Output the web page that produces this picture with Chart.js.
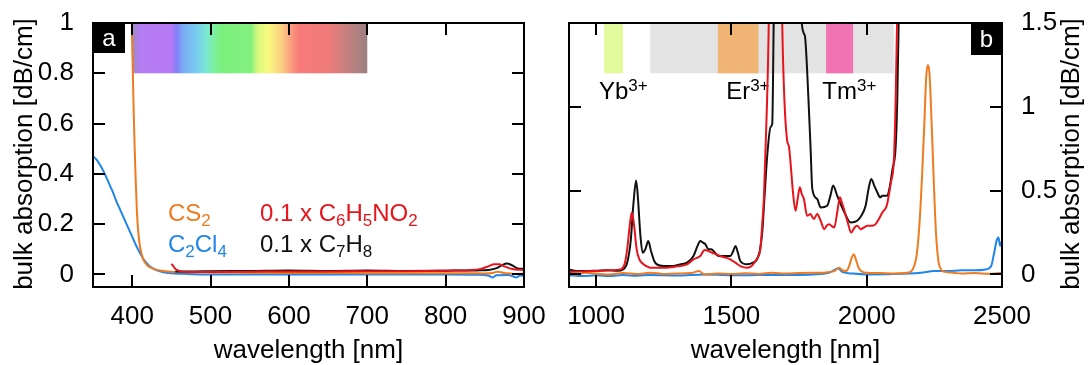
<!DOCTYPE html>
<html>
<head>
<meta charset="utf-8">
<script src="https://cdn.jsdelivr.net/npm/chart.js@4.4.1/dist/chart.umd.min.js"></script>
<style>
  body { margin: 0; background: #fff; }
  #wrap { position: relative; width: 1089px; height: 365px; }
  #visChart { position: absolute; left: 0; top: 0; }
  #nirChart { position: absolute; left: 545px; top: 0; }
</style>
</head>
<body>
<div id="wrap">
  <canvas id="visChart" width="545" height="365"></canvas>
  <canvas id="nirChart" width="544" height="365"></canvas>
</div>
<script>
// ---- visible range (panel a) ----
const cs2VisNm  = [397, 399, 400, 401, 402, 403, 404, 406, 408, 410, 413, 416, 420, 425, 430, 440, 450, 470, 500, 550, 600, 650, 700, 750, 800, 830, 850, 860, 866, 874, 882, 890, 900];
const cs2VisAbs = [1.6, 1.1, 0.92, 0.78, 0.64, 0.52, 0.42, 0.25, 0.16, 0.11, 0.07, 0.048, 0.034, 0.025, 0.019, 0.014, 0.011, 0.009, 0.008, 0.007, 0.006, 0.006, 0.005, 0.005, 0.005, 0.005, 0.004, 0.006, 0.011, 0.006, 0.004, 0.002, 0.003];

const c2cl4VisNm  = [350, 355, 360, 365, 370, 375, 380, 385, 390, 395, 400, 405, 410, 415, 420, 425, 430, 440, 450, 470, 500, 600, 700, 800, 840, 855, 860, 865, 880, 890, 895, 900];
const c2cl4VisAbs = [0.47, 0.455, 0.43, 0.40, 0.365, 0.33, 0.29, 0.255, 0.22, 0.185, 0.15, 0.115, 0.085, 0.058, 0.04, 0.027, 0.018, 0.009, 0.005, 0.002, 0.0, 0.0, 0.0, 0.0, -0.001, -0.005, -0.012, -0.003, -0.002, -0.012, -0.004, -0.006];

const nitroVisNm  = [450, 452, 455, 460, 465, 480, 500, 550, 600, 650, 700, 750, 800, 830, 845, 855, 862, 868, 875, 885, 900];
const nitroVisAbs = [0.042, 0.035, 0.022, 0.014, 0.011, 0.01, 0.01, 0.011, 0.012, 0.012, 0.013, 0.013, 0.015, 0.017, 0.022, 0.033, 0.04, 0.04, 0.032, 0.022, 0.018];

const toluVisNm  = [455, 480, 500, 550, 600, 650, 700, 750, 800, 840, 855, 865, 872, 878, 885, 892, 900];
const toluVisAbs = [0.012, 0.012, 0.013, 0.014, 0.016, 0.014, 0.016, 0.014, 0.015, 0.016, 0.018, 0.025, 0.037, 0.043, 0.036, 0.024, 0.022];

const visTicksX = [400, 500, 600, 700, 800, 900];
const visTicksY = [0, 0.2, 0.4, 0.6, 0.8, 1];

// ---- near infrared range (panel b) ----
const toluNirNm  = [900, 920, 960, 1000, 1040, 1080, 1100, 1115, 1128, 1138, 1148, 1155, 1163, 1172, 1182, 1193, 1203, 1215, 1225, 1250, 1285, 1310, 1336, 1360, 1375, 1385, 1395, 1404, 1415, 1425, 1434, 1452, 1478, 1496, 1507, 1515, 1524, 1533, 1558, 1580, 1595, 1605, 1614, 1622, 1632, 1645, 1651, 1657, 1665, 1740, 1758, 1767, 1772, 1785, 1793, 1799, 1817, 1830, 1854, 1866, 1876, 1891, 1915, 1941, 1965, 1980, 1996, 2008, 2017, 2028, 2039, 2050, 2058, 2076, 2085, 2095, 2107, 2113, 2118, 2125];
const toluNirAbs = [0.03, 0.022, 0.02, 0.022, 0.025, 0.022, 0.03, 0.07, 0.2, 0.42, 0.56, 0.45, 0.25, 0.13, 0.15, 0.2, 0.14, 0.08, 0.06, 0.05, 0.05, 0.06, 0.07, 0.11, 0.17, 0.2, 0.19, 0.18, 0.15, 0.15, 0.14, 0.11, 0.11, 0.11, 0.14, 0.17, 0.13, 0.08, 0.06, 0.07, 0.09, 0.14, 0.25, 0.45, 0.7, 0.88, 0.9, 1.6, 2.5, 2.5, 1.55, 1.44, 1.42, 1.04, 0.74, 0.51, 0.45, 0.40, 0.41, 0.47, 0.53, 0.47, 0.38, 0.31, 0.32, 0.35, 0.41, 0.52, 0.57, 0.53, 0.49, 0.46, 0.47, 0.47, 0.52, 0.625, 0.76, 1.04, 1.49, 2.5];

const nitroNirNm  = [900, 950, 1000, 1050, 1090, 1105, 1115, 1125, 1132, 1140, 1150, 1160, 1169, 1185, 1200, 1250, 1285, 1310, 1336, 1360, 1385, 1401, 1415, 1428, 1445, 1458, 1480, 1496, 1515, 1533, 1558, 1575, 1589, 1600, 1607, 1614, 1620, 1626, 1632, 1638, 1645, 1680, 1688, 1696, 1706, 1713, 1720, 1727, 1737, 1745, 1753, 1760, 1768, 1780, 1792, 1805, 1817, 1830, 1843, 1852, 1861, 1870, 1880, 1892, 1901, 1908, 1916, 1930, 1943, 1955, 1965, 1978, 1990, 2002, 2020, 2033, 2045, 2058, 2074, 2089, 2101, 2107, 2112, 2118];
const nitroNirAbs = [0.015, 0.018, 0.02, 0.025, 0.03, 0.06, 0.15, 0.3, 0.37, 0.3, 0.15, 0.09, 0.07, 0.05, 0.04, 0.04, 0.045, 0.05, 0.06, 0.09, 0.11, 0.145, 0.14, 0.13, 0.12, 0.11, 0.1, 0.09, 0.07, 0.05, 0.04, 0.05, 0.08, 0.11, 0.15, 0.3, 0.45, 0.74, 1.04, 1.49, 2.5, 2.5, 1.49, 1.04, 0.80, 0.76, 0.64, 0.5, 0.38, 0.45, 0.52, 0.48, 0.45, 0.35, 0.36, 0.33, 0.36, 0.32, 0.27, 0.29, 0.30, 0.29, 0.28, 0.38, 0.46, 0.43, 0.39, 0.31, 0.25, 0.28, 0.29, 0.27, 0.28, 0.29, 0.29, 0.30, 0.33, 0.37, 0.41, 0.545, 0.70, 1.04, 1.49, 2.5];

const cs2NirNm  = [900, 930, 960, 1000, 1050, 1100, 1150, 1200, 1250, 1300, 1350, 1380, 1400, 1450, 1500, 1550, 1600, 1650, 1700, 1750, 1800, 1850, 1880, 1898, 1910, 1925, 1935, 1945, 1952, 1960, 1970, 1985, 2000, 2050, 2100, 2150, 2170, 2185, 2195, 2205, 2213, 2220, 2226, 2232, 2240, 2248, 2256, 2265, 2275, 2290, 2320, 2350, 2400, 2450, 2500];
const cs2NirAbs = [0.005, 0.0, 0.01, 0.005, 0.0, 0.008, 0.002, 0.01, 0.003, 0.006, 0.008, 0.02, 0.0, 0.005, 0.002, 0.007, 0.003, 0.01, 0.005, 0.008, 0.01, 0.012, 0.02, 0.04, 0.025, 0.02, 0.05, 0.1, 0.12, 0.09, 0.04, 0.015, 0.01, 0.008, 0.006, 0.01, 0.03, 0.12, 0.3, 0.6, 0.9, 1.18, 1.25, 1.2, 0.9, 0.55, 0.25, 0.08, 0.03, 0.015, 0.01, 0.005, 0.008, 0.004, 0.01];

const c2cl4NirNm  = [900, 950, 1000, 1050, 1100, 1150, 1200, 1300, 1400, 1500, 1600, 1700, 1800, 1860, 1895, 1910, 1950, 2000, 2100, 2200, 2250, 2300, 2350, 2400, 2440, 2460, 2470, 2480, 2487, 2493, 2500];
const c2cl4NirAbs = [-0.005, -0.01, -0.005, -0.01, -0.004, -0.008, -0.003, -0.006, 0.0, -0.005, -0.004, -0.003, 0.0, 0.01, 0.035, 0.015, 0.005, 0.0, 0.002, 0.01, 0.02, 0.02, 0.025, 0.025, 0.03, 0.05, 0.12, 0.2, 0.22, 0.17, 0.2];

const nirTicksX = [1000, 1500, 2000, 2500];
const nirTicksY = [0, 0.5, 1, 1.5];

// rare-earth emission bands (nm); the first one is the grey telecom window
const bandStart = [1200, 1030, 1450, 1850];
const bandEnd   = [2100, 1100, 1600, 1950];
const bandIons  = [null, 'Yb', 'Er', 'Tm'];

const FONT = "'Liberation Sans', Arial, Helvetica, sans-serif";
const C_ORANGE = '#ef7b21', C_BLUE = '#1f85ea', C_RED = '#e8141c', C_BLACK = '#111';
const bandColors = ['#e3e3e3', '#e2f99c', '#f0b474', '#f273b4'];
const spectrumStops = [
  [400, '#9b8dc0'], [410, '#b47cf2'], [449, '#b87af6'], [457, '#8080f6'], [466, '#7ab0f4'],
  [480, '#78c8f4'], [495, '#7ae8d0'], [505, '#7cf09c'], [515, '#7cf07c'], [551, '#82f07e'],
  [560, '#d6f87e'], [573, '#fafa80'], [590, '#fcd082'], [607, '#fa8c7c'], [615, '#f87a7a'],
  [650, '#f07a7a'], [675, '#c48080'], [700, '#9a8080']
];

function pairs(xs, ys) { return xs.map((x, i) => ({ x: x, y: ys[i] })); }

function line(label, xs, ys, color) {
  return {
    label: label, data: pairs(xs, ys), borderColor: color, borderWidth: 2,
    pointRadius: 0, cubicInterpolationMode: 'monotone', fill: false
  };
}

// text with sub/superscripts; parts = [[text, ''|'sub'|'sup'], ...]
function drawRich(ctx, parts, x, y, color, size) {
  const small = Math.round(size * 0.7);
  ctx.fillStyle = color;
  ctx.textAlign = 'left';
  ctx.textBaseline = 'alphabetic';
  let cx = x;
  parts.forEach(([t, mode]) => {
    ctx.font = (mode ? small : size) + 'px ' + FONT;
    const dy = mode === 'sub' ? 5 : mode === 'sup' ? -8 : 0;
    ctx.fillText(t, cx, y + dy);
    cx += ctx.measureText(t).width;
  });
}

function drawFrame(chart, tickLen) {
  const { ctx, chartArea: a, scales: { x, y } } = chart;
  ctx.save();
  ctx.strokeStyle = '#000';
  ctx.lineWidth = 2;
  ctx.beginPath();
  x.ticks.forEach(t => {
    const px = Math.round(x.getPixelForValue(t.value));
    if (px <= a.left + 2 || px >= a.right - 2) return;
    ctx.moveTo(px, a.bottom); ctx.lineTo(px, a.bottom - tickLen);
    ctx.moveTo(px, a.top); ctx.lineTo(px, a.top + tickLen);
  });
  y.ticks.forEach(t => {
    const py = Math.round(y.getPixelForValue(t.value));
    if (py <= a.top + 2 || py >= a.bottom - 2) return;
    ctx.moveTo(a.left, py); ctx.lineTo(a.left + tickLen, py);
    ctx.moveTo(a.right, py); ctx.lineTo(a.right - tickLen, py);
  });
  ctx.stroke();
  ctx.strokeRect(a.left, a.top, a.right - a.left, a.bottom - a.top);
  ctx.restore();
}

function panelTag(ctx, letter, x0, y0, w, h) {
  ctx.fillStyle = '#000';
  ctx.fillRect(x0, y0, w, h);
  ctx.fillStyle = '#fff';
  ctx.font = '24px ' + FONT;
  ctx.textAlign = 'center';
  ctx.textBaseline = 'middle';
  ctx.fillText(letter, x0 + w / 2, y0 + h / 2 + 1);
}

function axisTitles(chart, yTitleX) {
  const { ctx, chartArea: a } = chart;
  ctx.save();
  ctx.fillStyle = '#000';
  ctx.font = '26px ' + FONT;
  ctx.textAlign = 'center';
  ctx.textBaseline = 'alphabetic';
  ctx.fillText('wavelength [nm]', (a.left + a.right) / 2, 358);
  ctx.translate(yTitleX, 154);
  ctx.rotate(-Math.PI / 2);
  ctx.fillText('bulk absorption [dB/cm]', 0, 0);
  ctx.restore();
}

const tickFont = { family: FONT, size: 26 };

// fixed axis boxes, no extra room for overhanging edge labels
function fixBox(s, w, h) {
  if (w) s.width = w;
  if (h) s.height = h;
  s.paddingLeft = 0; s.paddingRight = 0; s.paddingTop = 0; s.paddingBottom = 0;
}

function xScale(min, max, tickVals) {
  return {
    type: 'linear', min: min, max: max,
    grid: { display: false }, border: { display: false },
    afterBuildTicks: s => { s.ticks = tickVals.map(v => ({ value: v })); },
    afterFit: s => fixBox(s, 0, 78),
    ticks: { font: tickFont, color: '#000', padding: 6, maxRotation: 0, autoSkip: false, callback: v => String(v) }
  };
}

function yScale(min, max, tickVals, pos, width) {
  return {
    type: 'linear', min: min, max: max, position: pos,
    grid: { display: false }, border: { display: false },
    afterBuildTicks: s => { s.ticks = tickVals.map(v => ({ value: v })); },
    afterFit: s => fixBox(s, width, 0),
    ticks: { font: tickFont, color: '#000', padding: 11, autoSkip: false, callback: v => String(v) }
  };
}

// Panel a: visible range
const visPlugin = {
  id: 'visDecor',
  beforeDatasetsDraw(chart) {
    const { ctx, scales: { x, y } } = chart;
    const x0 = x.getPixelForValue(400), x1 = x.getPixelForValue(700);
    const g = ctx.createLinearGradient(x0, 0, x1, 0);
    spectrumStops.forEach(([nm, c]) => g.addColorStop((nm - 400) / 300, c));
    ctx.save();
    ctx.fillStyle = g;
    const yTop = y.getPixelForValue(1), yBot = y.getPixelForValue(0.8);
    ctx.fillRect(x0, yTop, x1 - x0, yBot - yTop);
    ctx.restore();
  },
  afterDatasetsDraw(chart) {
    const { ctx, chartArea: a } = chart;
    drawFrame(chart, 12);
    ctx.save();
    panelTag(ctx, 'a', a.left, a.top, 32, 30);
    drawRich(ctx, [['CS', ''], ['2', 'sub']], 168, 221, C_ORANGE, 24);
    drawRich(ctx, [['C', ''], ['2', 'sub'], ['Cl', ''], ['4', 'sub']], 168, 252, C_BLUE, 24);
    drawRich(ctx, [['0.1 x C', ''], ['6', 'sub'], ['H', ''], ['5', 'sub'], ['NO', ''], ['2', 'sub']], 260, 221, C_RED, 24);
    drawRich(ctx, [['0.1 x C', ''], ['7', 'sub'], ['H', ''], ['8', 'sub']], 260, 252, C_BLACK, 24);
    ctx.restore();
    axisTitles(chart, 32);
  }
};

new Chart(document.getElementById('visChart'), {
  type: 'line',
  data: {
    datasets: [
      line('0.1 x C6H5NO2', nitroVisNm, nitroVisAbs, C_RED),
      line('0.1 x C7H8', toluVisNm, toluVisAbs, C_BLACK),
      line('CS2', cs2VisNm, cs2VisAbs, C_ORANGE),
      line('C2Cl4', c2cl4VisNm, c2cl4VisAbs, C_BLUE)
    ]
  },
  options: {
    responsive: false,
    animation: false,
    layout: { padding: { left: 0, right: 21, top: 23, bottom: 0 } },
    plugins: { legend: { display: false }, tooltip: { enabled: false } },
    scales: {
      x: xScale(350, 900, visTicksX),
      y: yScale(-0.05, 1, visTicksY, 'left', 93)
    }
  },
  plugins: [visPlugin]
});

// Panel b: near infrared
const nirPlugin = {
  id: 'nirDecor',
  beforeDatasetsDraw(chart) {
    const { ctx, scales: { x, y } } = chart;
    const yTop = y.getPixelForValue(1.5), yBot = y.getPixelForValue(1.2);
    ctx.save();
    bandStart.forEach((s, i) => {
      const x0 = x.getPixelForValue(s), x1 = x.getPixelForValue(bandEnd[i]);
      ctx.fillStyle = bandColors[i];
      ctx.fillRect(x0, yTop, x1 - x0, yBot - yTop);
      if (!bandIons[i]) return;
      ctx.font = '24px ' + FONT;
      const w = ctx.measureText(bandIons[i]).width;
      drawRich(ctx, [[bandIons[i], ''], ['3+', 'sup']], (x0 + x1) / 2 - w / 2, 99, '#000', 24);
    });
    ctx.restore();
  },
  afterDatasetsDraw(chart) {
    const { ctx, chartArea: a } = chart;
    drawFrame(chart, 12);
    ctx.save();
    panelTag(ctx, 'b', a.right - 31, a.top, 31, 32);
    ctx.restore();
    axisTitles(chart, 534);
  }
};

new Chart(document.getElementById('nirChart'), {
  type: 'line',
  data: {
    datasets: [
      line('0.1 x C6H5NO2', nitroNirNm, nitroNirAbs, C_RED),
      line('0.1 x C7H8', toluNirNm, toluNirAbs, C_BLACK),
      line('CS2', cs2NirNm, cs2NirAbs, C_ORANGE),
      line('C2Cl4', c2cl4NirNm, c2cl4NirAbs, C_BLUE)
    ]
  },
  options: {
    responsive: false,
    animation: false,
    layout: { padding: { left: 24, right: 0, top: 23, bottom: 0 } },
    plugins: { legend: { display: false }, tooltip: { enabled: false } },
    scales: {
      x: xScale(900, 2500, nirTicksX),
      y: yScale(-0.075, 1.5, nirTicksY, 'right', 87)
    }
  },
  plugins: [nirPlugin]
});
</script>
</body>
</html>
